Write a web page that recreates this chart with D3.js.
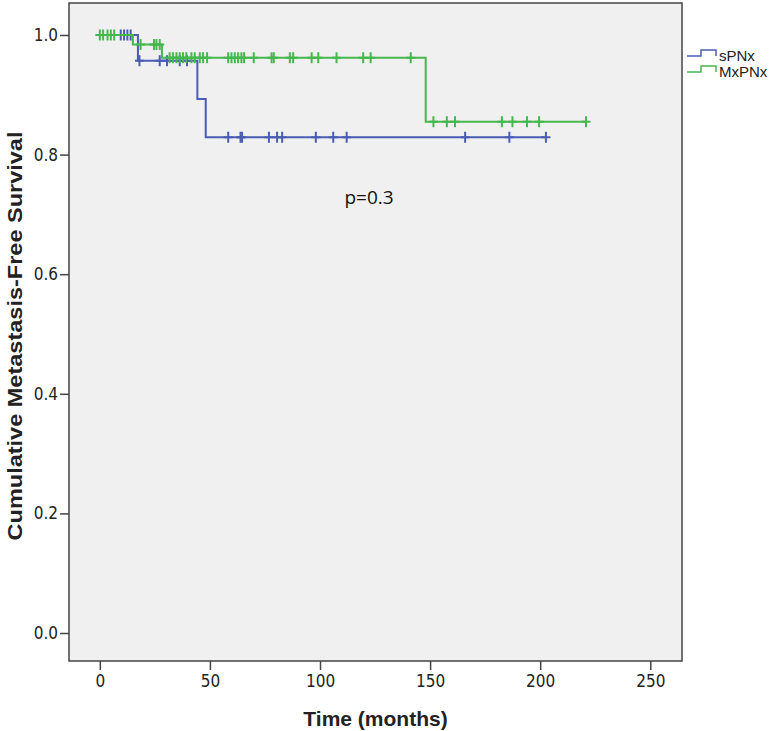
<!DOCTYPE html>
<html>
<head>
<meta charset="utf-8">
<script src="https://cdn.jsdelivr.net/npm/d3@7"></script>
<style>
  body { margin: 0; background: #fff; }
  svg { display: block; }
</style>
</head>
<body>
<div id="chart"></div>
<script>
(function () {

  // groups
  var groups = ["sPNx", "MxPNx"];
  var colors = ["#4a5cb6", "#45b84c"];

  // event times (months) and survival after each drop
  var spnxEventTimes = [17.3, 44.3, 48.1];
  var spnxSurv = [0.957, 0.893, 0.829];
  var mxpnxEventTimes = [15.0, 28.2, 148.0];
  var mxpnxSurv = [0.984, 0.962, 0.855];

  // censored times (months)
  var spnxCensor = [9.5, 11, 12.5, 14, 18, 27.2, 30.5, 36.3, 39.6,
    58.3, 63.9, 64.6, 76.8, 80.5, 82.8, 98.1, 106.0, 112.1, 165.9, 186.0, 202.6];
  var mxpnxCensor = [0, 1.5, 3.5, 5, 6.5, 18.5, 24.6, 25.7, 27.2,
    31.7, 33.2, 34.8, 36.3, 37.8, 39.3, 41.6, 43.1, 45.4, 46.9, 48.7,
    58.3, 59.8, 61.3, 62.8, 64.3, 65.5, 69.9, 78.0, 79.0, 86.3, 87.8,
    96.2, 99.2, 107.5, 119.6, 123.0, 141.2,
    151.5, 157.6, 161.3, 182.6, 187.4, 194.0, 199.5, 220.8];

  var xTicks = [0, 50, 100, 150, 200, 250];
  var yTicks = [0.0, 0.2, 0.4, 0.6, 0.8, 1.0];

  var width = 770, height = 731;
  var left = 69, right = 682, top = 3, bottom = 661;

  var x = d3.scaleLinear().domain([-14, 264.4]).range([left, right]);
  var y = d3.scaleLinear().domain([-0.0468, 1.0535]).range([bottom, top]);

  var svg = d3.select("#chart").append("svg")
    .attr("width", width)
    .attr("height", height);

  // plot background + frame
  svg.append("rect")
    .attr("x", left).attr("y", top)
    .attr("width", right - left).attr("height", bottom - top)
    .attr("fill", "#f0f0f0")
    .attr("stroke", "#444")
    .attr("stroke-width", 1.5);

  var tickFont = "'Liberation Sans Narrow', 'Arial Narrow', 'DejaVu Sans Condensed', sans-serif";

  var xAxis = svg.append("g")
    .attr("transform", "translate(0," + bottom + ")")
    .call(d3.axisBottom(x).tickValues(xTicks).tickSize(9).tickPadding(5).tickFormat(d3.format("d")));
  var yAxis = svg.append("g")
    .attr("transform", "translate(" + left + ",0)")
    .call(d3.axisLeft(y).tickValues(yTicks).tickSize(9).tickPadding(2).tickFormat(d3.format(".1f")));

  [xAxis, yAxis].forEach(function (ax) {
    ax.select(".domain").remove();
    ax.selectAll(".tick line").attr("stroke", "#444").attr("stroke-width", 1.5);
    ax.selectAll(".tick text")
      .attr("fill", "#222")
      .style("font-family", tickFont)
      .style("font-size", "17px");
  });

  // axis titles
  svg.append("text")
    .attr("x", (left + right) / 2)
    .attr("y", 726)
    .attr("text-anchor", "middle")
    .style("font-family", "'Liberation Sans', Arial, sans-serif")
    .style("font-weight", "bold")
    .style("font-size", "21px")
    .attr("fill", "#222")
    .text("Time (months)");

  svg.append("text")
    .attr("transform", "translate(22," + ((top + bottom) / 2 + 4) + ") rotate(-90) scale(1.12,1)")
    .attr("text-anchor", "middle")
    .style("font-family", "'Liberation Sans', Arial, sans-serif")
    .style("font-weight", "bold")
    .style("font-size", "21px")
    .attr("fill", "#222")
    .text("Cumulative Metastasis-Free Survival");

  // p value
  svg.append("text")
    .attr("x", 369)
    .attr("y", 204)
    .attr("text-anchor", "middle")
    .style("font-family", "'Open Sans', 'Noto Sans', sans-serif")
    .style("font-size", "19px")
    .attr("fill", "#111")
    .text("p=0.3");

  function survAt(t, times, surv) {
    var s = 1;
    for (var i = 0; i < times.length; i++) {
      if (t >= times[i]) s = surv[i];
    }
    return s;
  }

  function drawCurve(times, surv, censor, color) {
    var lastT = d3.max(censor.concat(times));
    var pts = [[0, 1]];
    times.forEach(function (t, i) { pts.push([t, surv[i]]); });
    pts.push([lastT, survAt(lastT, times, surv)]);

    var line = d3.line()
      .x(function (d) { return x(d[0]); })
      .y(function (d) { return y(d[1]); })
      .curve(d3.curveStepAfter);

    svg.append("path")
      .datum(pts)
      .attr("d", line)
      .attr("fill", "none")
      .attr("stroke", color)
      .attr("stroke-width", 2);

    var marks = svg.append("g").selectAll("g")
      .data(censor)
      .enter().append("g")
      .attr("transform", function (d) {
        return "translate(" + x(d) + "," + y(survAt(d, times, surv)) + ")";
      });
    marks.append("line")
      .attr("x1", 0).attr("x2", 0).attr("y1", -5.5).attr("y2", 5.5)
      .attr("stroke", color).attr("stroke-width", 2);
    marks.append("line")
      .attr("x1", -4.5).attr("x2", 4.5).attr("y1", 0).attr("y2", 0)
      .attr("stroke", color).attr("stroke-width", 2);
  }

  drawCurve(spnxEventTimes, spnxSurv, spnxCensor, colors[0]);
  drawCurve(mxpnxEventTimes, mxpnxSurv, mxpnxCensor, colors[1]);

  // legend
  var legend = svg.append("g").attr("transform", "translate(687,50)");
  groups.forEach(function (g, i) {
    var row = legend.append("g").attr("transform", "translate(0," + (i * 16) + ")");
    row.append("path")
      .attr("d", "M0,6H14V0H29V6")
      .attr("fill", "none")
      .attr("stroke", colors[i])
      .attr("stroke-width", 1.5);
    row.append("text")
      .attr("x", 32)
      .attr("y", 11)
      .style("font-family", "'Liberation Sans', Arial, sans-serif")
      .style("font-size", "15px")
      .attr("fill", "#222")
      .text(g);
  });

})();
</script>
</body>
</html>
